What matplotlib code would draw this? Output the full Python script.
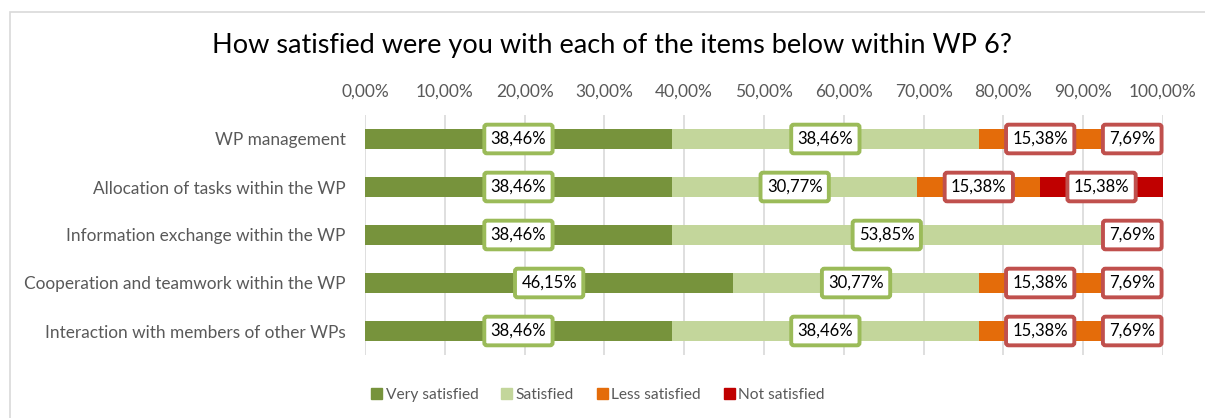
import matplotlib
matplotlib.use("Agg")
import matplotlib.pyplot as plt
from matplotlib.patches import Rectangle, Patch
from matplotlib.ticker import FuncFormatter, MultipleLocator

plt.rcParams['font.family'] = ['Lato', 'DejaVu Sans']

categories = [
    "WP management",
    "Allocation of tasks within the WP",
    "Information exchange within the WP",
    "Cooperation and teamwork within the WP",
    "Interaction with members of other WPs",
]
series_names = ["Very satisfied", "Satisfied", "Less satisfied", "Not satisfied"]
very_satisfied = [38.46, 38.46, 38.46, 46.15, 38.46]
satisfied = [38.46, 30.77, 53.85, 30.77, 38.46]
less_satisfied = [15.38, 15.38, 0.0, 15.38, 15.38]
not_satisfied = [7.69, 15.38, 7.69, 7.69, 7.69]

C_VERY = "#77933C"
C_SAT = "#C3D69B"
C_LESS = "#E46C0A"
C_NOT = "#C00000"
series_colors = [C_VERY, C_SAT, C_LESS, C_NOT]
# fill used for the last segment of each row
not_fill = [C_LESS, C_NOT, C_SAT, C_LESS, C_LESS]
box_edges = ["#9BBB59", "#9BBB59", "#C0504D", "#C0504D"]

W, H = 1205, 418
fig = plt.figure(figsize=(W / 100, H / 100), dpi=100)

# chart-area border
fig.add_artist(Rectangle((10 / W, -0.05), 1.2, 1 - 12 / H + 0.05,
                         transform=fig.transFigure, fill=False,
                         ec="#D9D9D9", lw=1.2))

ax = fig.add_axes([365 / W, 1 - 355 / H, (1163 - 365) / W, 240 / H])

data = [very_satisfied, satisfied, less_satisfied, not_satisfied]
ypos = list(range(len(categories)))
left = [0.0] * len(categories)
bar_h = 0.42
for si, vals in enumerate(data):
    colors = not_fill if si == 3 else [series_colors[si]] * len(vals)
    ax.barh(ypos, vals, left=left, height=bar_h, color=colors, zorder=2)
    for i, v in enumerate(vals):
        if v > 0:
            ax.text(left[i] + v / 2, ypos[i], f"{v:.2f}%".replace(".", ","),
                    ha="center", va="center", fontsize=12, color="black",
                    zorder=5,
                    bbox=dict(boxstyle="round,pad=0.38,rounding_size=0.15",
                              fc="white", ec=box_edges[si], lw=2.8))
    left = [l + v for l, v in zip(left, vals)]

ax.set_xlim(0, 100)
ax.set_ylim(len(categories) - 0.5, -0.5)
ax.xaxis.set_major_locator(MultipleLocator(10))
ax.xaxis.set_major_formatter(FuncFormatter(lambda x, p: f"{x:.2f}%".replace(".", ",")))
ax.xaxis.tick_top()
ax.set_yticks(ypos)
ax.set_yticklabels(categories)
ax.tick_params(axis="x", length=0, colors="#595959", labelsize=12.5, pad=11)
ax.tick_params(axis="y", length=0, colors="#595959", labelsize=12.4, pad=14)
ax.grid(axis="x", color="#D9D9D9", lw=1.2, zorder=0)
for s in ax.spines.values():
    s.set_visible(False)

fig.text(612 / W, 1 - 45 / H,
         "How satisfied were you with each of the items below within WP 6?",
         ha="center", va="center", fontsize=19.5, color="black")

handles = [Patch(color=c, label=n) for c, n in zip(series_colors, series_names)]
fig.legend(handles=handles, loc="center", bbox_to_anchor=(598 / W, 1 - 395 / H),
           ncol=4, frameon=False, fontsize=11.2, handlelength=0.7,
           handleheight=0.7, handletextpad=0.25, columnspacing=1.45,
           labelcolor="#595959")

fig.savefig("out.png", dpi=100, facecolor="white")
